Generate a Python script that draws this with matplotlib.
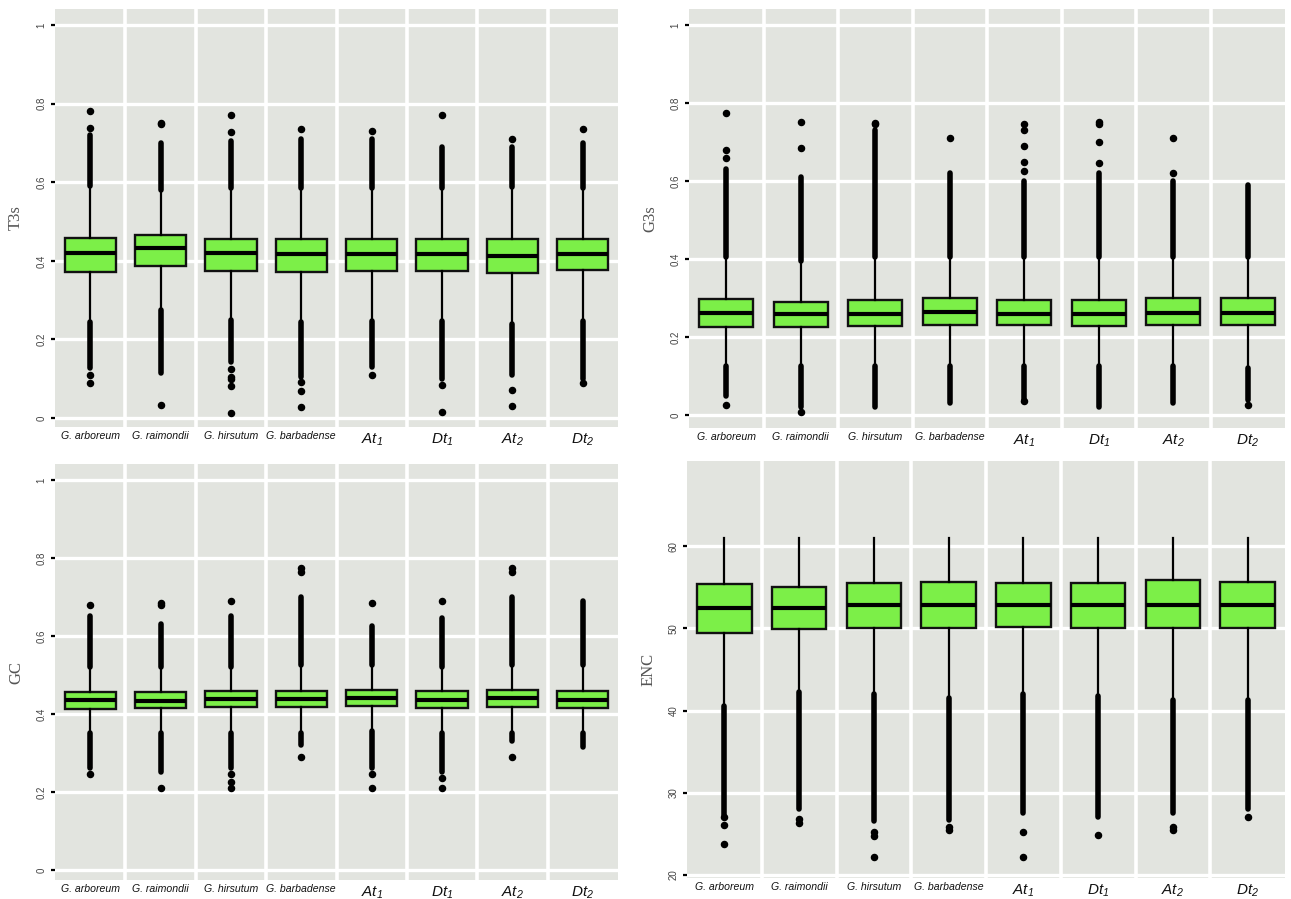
import matplotlib
matplotlib.use("Agg")
import matplotlib.pyplot as plt
import numpy as np

plt.rcParams['mathtext.fontset'] = 'custom'
plt.rcParams['mathtext.it'] = 'Liberation Sans:italic'
plt.rcParams['mathtext.rm'] = 'Liberation Sans:italic'
plt.rcParams['font.family'] = 'Liberation Sans'

categories = ['G. arboreum', 'G. raimondii', 'G. hirsutum', 'G. barbadense',
              r'$At_1$', r'$Dt_1$', r'$At_2$', r'$Dt_2$']

# ---- T3s ----
t3s_q1 = [0.372, 0.387, 0.374, 0.371, 0.375, 0.375, 0.370, 0.376]
t3s_med = [0.420, 0.432, 0.419, 0.417, 0.418, 0.418, 0.413, 0.418]
t3s_q3 = [0.458, 0.466, 0.455, 0.455, 0.455, 0.456, 0.455, 0.456]
t3s_wlo = [0.250, 0.280, 0.254, 0.250, 0.252, 0.252, 0.245, 0.252]
t3s_whi = [0.585, 0.575, 0.580, 0.580, 0.580, 0.580, 0.582, 0.580]
t3s_up_band = [(0.59, 0.72), (0.58, 0.70), (0.585, 0.705), (0.585, 0.71),
               (0.585, 0.71), (0.585, 0.69), (0.587, 0.69), (0.585, 0.70)]
t3s_lo_band = [(0.127, 0.245), (0.114, 0.275), (0.143, 0.250), (0.105, 0.245),
               (0.130, 0.247), (0.100, 0.247), (0.110, 0.240), (0.100, 0.247)]
t3s_points = [[0.738, 0.781, 0.109, 0.089],
              [0.748, 0.752, 0.033],
              [0.728, 0.771, 0.125, 0.105, 0.100, 0.081, 0.013],
              [0.735, 0.091, 0.069, 0.029],
              [0.730, 0.110],
              [0.772, 0.085, 0.015],
              [0.710, 0.070, 0.030],
              [0.735, 0.090]]

# ---- G3s ----
g3s_q1 = [0.226, 0.226, 0.228, 0.232, 0.230, 0.228, 0.232, 0.232]
g3s_med = [0.262, 0.258, 0.260, 0.264, 0.260, 0.260, 0.262, 0.263]
g3s_q3 = [0.297, 0.290, 0.295, 0.300, 0.296, 0.296, 0.300, 0.300]
g3s_wlo = [0.130, 0.130, 0.130, 0.130, 0.130, 0.130, 0.130, 0.125]
g3s_whi = [0.400, 0.390, 0.400, 0.400, 0.400, 0.400, 0.400, 0.400]
g3s_up_band = [(0.405, 0.63), (0.395, 0.61), (0.405, 0.73), (0.405, 0.62),
               (0.405, 0.60), (0.405, 0.62), (0.405, 0.60), (0.405, 0.59)]
g3s_lo_band = [(0.050, 0.125), (0.020, 0.125), (0.020, 0.125), (0.030, 0.125),
               (0.040, 0.125), (0.020, 0.125), (0.030, 0.125), (0.040, 0.120)]
g3s_points = [[0.660, 0.680, 0.775, 0.025],
              [0.685, 0.752, 0.008],
              [0.745, 0.750],
              [0.710],
              [0.625, 0.650, 0.690, 0.730, 0.745, 0.035],
              [0.645, 0.700, 0.745, 0.752],
              [0.620, 0.710],
              [0.027]]

# ---- GC ----
gc_q1 = [0.413, 0.415, 0.418, 0.418, 0.420, 0.415, 0.418, 0.416]
gc_med = [0.436, 0.434, 0.438, 0.438, 0.440, 0.436, 0.440, 0.436]
gc_q3 = [0.456, 0.455, 0.458, 0.460, 0.462, 0.458, 0.462, 0.460]
gc_wlo = [0.355, 0.355, 0.358, 0.358, 0.360, 0.356, 0.358, 0.356]
gc_whi = [0.515, 0.515, 0.518, 0.520, 0.522, 0.518, 0.522, 0.520]
gc_up_band = [(0.52, 0.65), (0.52, 0.63), (0.52, 0.65), (0.525, 0.70),
              (0.525, 0.625), (0.52, 0.645), (0.525, 0.70), (0.525, 0.69)]
gc_lo_band = [(0.260, 0.350), (0.250, 0.350), (0.260, 0.352), (0.320, 0.352),
              (0.260, 0.355), (0.250, 0.350), (0.330, 0.352), (0.315, 0.350)]
gc_points = [[0.680, 0.245],
             [0.680, 0.685, 0.210],
             [0.690, 0.245, 0.225, 0.210],
             [0.765, 0.775, 0.290],
             [0.685, 0.245, 0.210],
             [0.690, 0.235, 0.210],
             [0.765, 0.775, 0.290],
             []]

# ---- ENC ----
enc_q1 = [49.5, 49.9, 50.0, 50.0, 50.2, 50.0, 50.0, 50.0]
enc_med = [52.5, 52.5, 52.8, 52.9, 52.8, 52.8, 52.9, 52.8]
enc_q3 = [55.4, 55.1, 55.5, 55.7, 55.5, 55.5, 55.9, 55.6]
enc_wlo = [40.7, 42.5, 42.2, 41.7, 42.2, 42.0, 41.5, 41.5]
enc_whi = [61.0, 61.0, 61.0, 61.0, 61.0, 61.0, 61.0, 61.0]
enc_up_band = [None] * 8
enc_lo_band = [(27.3, 40.5), (28.0, 42.3), (26.5, 42.0), (26.7, 41.5),
               (27.5, 42.0), (27.0, 41.8), (27.5, 41.3), (28.0, 41.3)]
enc_points = [[27.0, 26.0, 23.8],
              [26.8, 26.3],
              [25.2, 24.7, 22.2],
              [25.8, 25.5],
              [25.2, 22.2],
              [24.8],
              [25.8, 25.5],
              [27.0]]

W, H = 1291, 899
BG = '#E2E4DF'
GREEN = '#7CEF48'

fig = plt.figure(figsize=(W / 100, H / 100), dpi=100)


def px_axes(x0, y0, x1, y1):
    return fig.add_axes([x0 / W, 1 - y1 / H, (x1 - x0) / W, (y1 - y0) / H])


def draw_panel(ax, q1, med, q3, wlo, whi, up_band, lo_band, points,
               ylim, yticks, yticklabels, ylabel):
    n = len(categories)
    pos = np.arange(1, n + 1)
    stats = []
    for i in range(n):
        stats.append({'q1': q1[i], 'med': med[i], 'q3': q3[i],
                      'whislo': wlo[i], 'whishi': whi[i], 'fliers': []})
    ax.set_facecolor(BG)
    for t in yticks:
        ax.axhline(t, color='white', lw=2.4, zorder=0)
    for b in np.arange(1.5, n, 1.0):
        ax.axvline(b, color='white', lw=2.6, zorder=0)

    ax.bxp(stats, positions=pos, widths=0.73, patch_artist=True,
           showcaps=False, showfliers=False,
           boxprops=dict(facecolor=GREEN, edgecolor='#111111', linewidth=1.7),
           medianprops=dict(color='black', linewidth=3.0),
           whiskerprops=dict(color='black', linewidth=1.6),
           zorder=2)

    # dense runs of outliers, drawn as a solid column
    for i in range(n):
        for band in (up_band[i], lo_band[i]):
            if band is not None:
                ax.plot([pos[i], pos[i]], band, color='black', lw=4.0,
                        solid_capstyle='round', zorder=3)
        if points[i]:
            ax.plot([pos[i]] * len(points[i]), points[i], 'o', color='black',
                    ms=4.4, zorder=3)

    ax.set_xlim(0.5, n + 0.5)
    ax.set_ylim(*ylim)
    ax.set_yticks(yticks)
    ax.set_yticklabels(yticklabels, rotation=90, va='center', fontsize=7,
                       color='#444444')
    ax.set_xticks(pos)
    ax.set_xticklabels(categories, fontsize=7.6, color='#111111',
                       fontstyle='italic')
    for i, lab in enumerate(ax.get_xticklabels()):
        if i >= 4:
            lab.set_fontsize(11)
    ax.tick_params(axis='y', length=3, width=1.6, color='black', pad=3)
    ax.tick_params(axis='x', length=0, pad=3)
    for s in ax.spines.values():
        s.set_visible(False)
    ax.set_ylabel(ylabel, family='Liberation Serif', fontsize=12,
                  color='#555555', labelpad=9)


frac_ticks = [0, 0.2, 0.4, 0.6, 0.8, 1]
frac_labels = ['0', '0.2', '0.4', '0.6', '0.8', '1']

ax1 = px_axes(55, 9, 618, 427)
draw_panel(ax1, t3s_q1, t3s_med, t3s_q3, t3s_wlo, t3s_whi, t3s_up_band,
           t3s_lo_band, t3s_points, (-0.023, 1.041), frac_ticks, frac_labels,
           'T3s')

ax2 = px_axes(689, 9, 1285, 428)
draw_panel(ax2, g3s_q1, g3s_med, g3s_q3, g3s_wlo, g3s_whi, g3s_up_band,
           g3s_lo_band, g3s_points, (-0.033, 1.041), frac_ticks, frac_labels,
           'G3s')

ax3 = px_axes(55, 464, 618, 880)
draw_panel(ax3, gc_q1, gc_med, gc_q3, gc_wlo, gc_whi, gc_up_band,
           gc_lo_band, gc_points, (-0.026, 1.041), frac_ticks, frac_labels,
           'GC')

ax4 = px_axes(687, 461, 1285, 878)
draw_panel(ax4, enc_q1, enc_med, enc_q3, enc_wlo, enc_whi, enc_up_band,
           enc_lo_band, enc_points, (19.6, 70.4), [20, 30, 40, 50, 60],
           ['20', '30', '40', '50', '60'], 'ENC')

fig.savefig('out.png', dpi=100, facecolor='white')
